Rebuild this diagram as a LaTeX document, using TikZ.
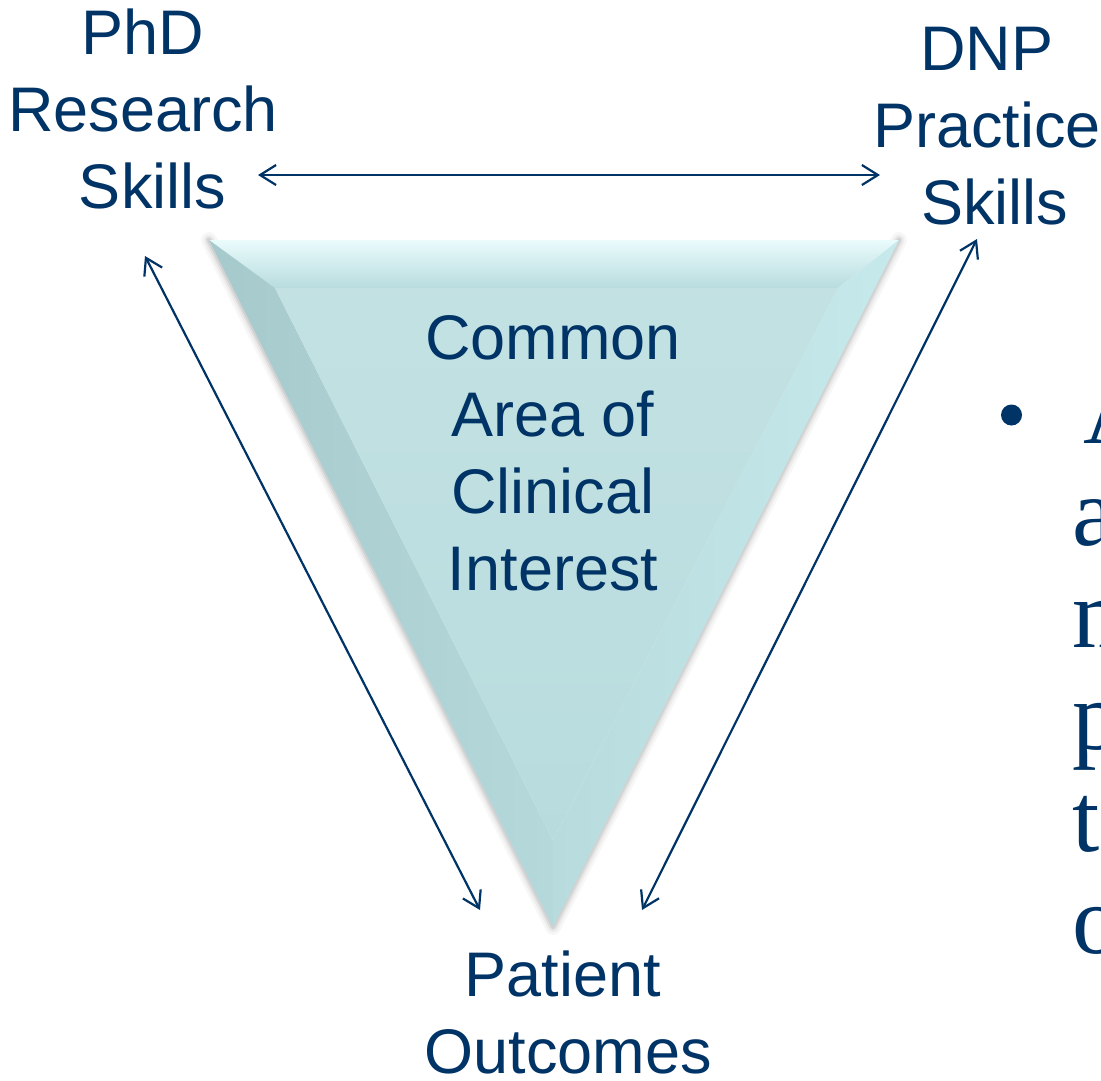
\documentclass[tikz,border=0pt]{standalone}
\usepackage{fontspec}
\setmainfont{Liberation Sans}
\newfontfamily\bodyserif{Liberation Serif}
\usetikzlibrary{arrows.meta}
\definecolor{navy}{RGB}{0,51,102}
\definecolor{tealmain}{RGB}{184,220,222}
\definecolor{tealtop}{RGB}{234,251,252}
\definecolor{tealdark}{RGB}{166,201,203}
\definecolor{teallight}{RGB}{198,233,235}
\begin{document}
\begin{tikzpicture}[x=1pt,y=-1pt,
  labeltext/.style={text=navy, font=\fontsize{63}{77}\selectfont, align=center, inner sep=0pt},
  link/.style={draw=navy, line width=2.2pt,
    {Straight Barb[length=16pt,width=20pt]}-{Straight Barb[length=16pt,width=20pt]}},
]
\clip (0,0) rectangle (1101,1080);
\fill[white] (0,0) rectangle (1101,1080);

% corners of the inverted triangle and of its bevel
\coordinate (tl) at (209,240);
\coordinate (tr) at (899,240);
\coordinate (bt) at (553,927);
\coordinate (itl) at (275,288);
\coordinate (itr) at (838,288);
\coordinate (ibt) at (553,840);

% soft shadow along the lower edges
\begin{scope}[shift={(2,4)}]
  \foreach \w/\o in {16/0.03, 11/0.04, 7/0.05, 4/0.06}
    \draw[black, opacity=\o, line width=\w pt, line join=round, line cap=round]
      (tl) -- (bt) -- (tr);
\end{scope}

% bevelled faces
\shade[top color=tealtop, bottom color=tealmain] (tl) -- (tr) -- (itr) -- (itl) -- cycle;
\shade[left color=tealdark, right color=tealmain!95!black!30!tealmain] (tl) -- (itl) -- (ibt) -- (bt) -- cycle;
\shade[left color=tealmain, right color=teallight] (tr) -- (bt) -- (ibt) -- (itr) -- cycle;
\shade[top color=tealmain!85!white, bottom color=tealmain] (itl) -- (itr) -- (ibt) -- cycle;

% labels
\node[labeltext] (phd) at (143,109) {PhD\\Research\\\hspace*{19pt}Skills};
\node[labeltext] (dnp) at (987,126) {DNP\\Practice\\\hspace*{15pt}Skills};
\node[labeltext] (common) at (553,453) {Common\\Area of\\Clinical\\Interest};
\node[labeltext] (patient) at (563,1012) {Patient\\\hspace*{10pt}Outcomes};

% arrow end points
\coordinate (phdR) at (258,175);
\coordinate (dnpL) at (880,175);
\coordinate (phdB) at (145,256);
\coordinate (patL) at (480,910);
\coordinate (dnpB) at (977,239);
\coordinate (patR) at (642,910);

\draw[link] (phdR) -- (dnpL);
\draw[link] (phdB) -- (patL);
\draw[link] (dnpB) -- (patR);

% bulleted text running off the right edge
\node[circle, fill=navy, inner sep=0pt, minimum size=21pt] (bullet) at (1011.5,415) {};
\node[text=navy, font=\bodyserif\fontsize{98}{102}\selectfont, align=left, inner sep=0pt,
      anchor=north west] (para) at (1072,379) {\hspace*{11pt}A\\a\\m\\p\\t\\o};
\end{tikzpicture}
\end{document}
